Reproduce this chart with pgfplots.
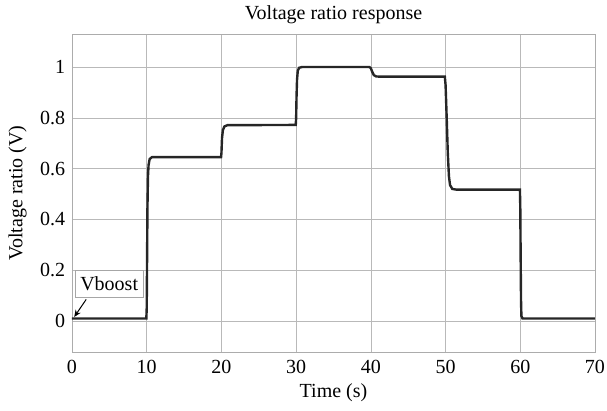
\documentclass[border=0pt]{standalone}
\usepackage{fontspec}
\setmainfont{Liberation Serif}
\usepackage{pgfplots}
\pgfplotsset{compat=1.18}
\usetikzlibrary{arrows.meta}
\begin{document}
\fontsize{20}{23}\selectfont
\begin{tikzpicture}[x=1pt,y=1pt]
\begin{axis}[
  at={(0,0)}, anchor=south west,
  scale only axis, width=523pt, height=318pt,
  xmin=0, xmax=70, ymin=-0.122, ymax=1.13,
  xtick={0,10,20,30,40,50,60,70},
  ytick={0,0.2,0.4,0.6,0.8,1},
  grid=major,
  grid style={gray!55, line width=0.6pt},
  axis line style={gray!65, line width=0.6pt},
  tick style={draw=none},
  /pgf/number format/assume math mode=true,
  ticklabel style={font=\fontsize{20}{23}\selectfont},
  xticklabel style={yshift=-1pt},
  label style={font=\fontsize{20}{23}\selectfont},
  xlabel style={yshift=3pt},
  title style={font=\fontsize{20}{23}\selectfont, yshift=-3pt},
  title={Voltage ratio response},
  xlabel={Time (s)},
  ylabel={Voltage ratio (V)},
  clip=true,
]
\addplot[black!85, line width=2.4pt] coordinates {
 (0,0.010) (9.95,0.010) (10.0,0.05) (10.05,0.25) (10.1,0.45) (10.17,0.57) (10.25,0.615) (10.4,0.638) (10.7,0.645)
 (19.95,0.645) (20.0,0.66) (20.08,0.72) (20.2,0.752) (20.4,0.766) (20.8,0.771)
 (29.95,0.772) (30.0,0.80) (30.05,0.88) (30.12,0.95) (30.22,0.985) (30.4,0.997) (30.8,1.0)
 (39.8,1.0) (40.0,0.995) (40.2,0.98) (40.4,0.968) (40.7,0.963) (41.2,0.962)
 (49.9,0.962) (50.0,0.93) (50.15,0.80) (50.3,0.66) (50.45,0.57) (50.6,0.535) (50.9,0.52) (51.5,0.517)
 (59.95,0.517) (60.0,0.45) (60.05,0.25) (60.1,0.08) (60.15,0.02) (60.3,0.010) (70,0.010)
};
\node[draw=gray!70, fill=white, inner xsep=2pt, inner ysep=0pt, anchor=north west,
      minimum height=27pt, minimum width=68pt, font=\fontsize{20}{23}\selectfont]
  at (axis cs:0.4,0.2) {Vboost};
\draw[-{Stealth[length=7pt,width=6pt]}, black, line width=1pt] (axis cs:1.9,0.085) -- (axis cs:0.3,0.016);
\end{axis}
\pgfresetboundingbox
\path[use as bounding box] (-72,-59) rectangle (535,352);
\end{tikzpicture}
\end{document}
